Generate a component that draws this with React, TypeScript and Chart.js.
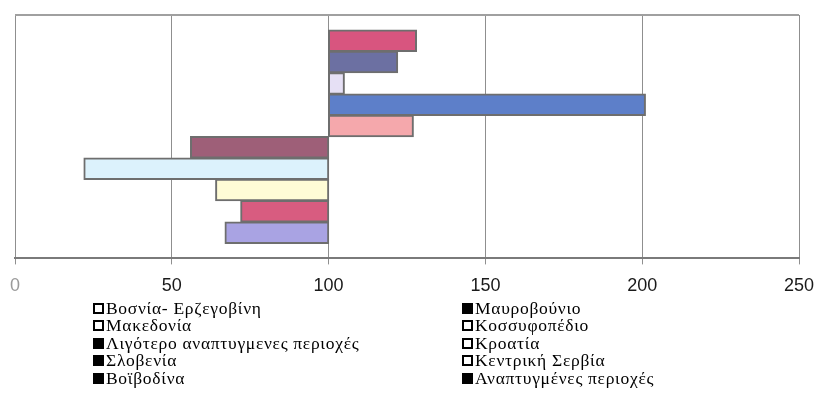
import React, { useEffect, useRef } from "react";
import { Chart, registerables } from "chart.js";

Chart.register(...registerables);

// Legend order (read row by row, left column then right column)
const seriesNames = [
  "Βοσνία- Ερζεγοβίνη",
  "Μαυροβούνιο",
  "Μακεδονία",
  "Κοσσυφοπέδιο",
  "Λιγότερο αναπτυγμενες περιοχές",
  "Κροατία",
  "Σλοβενία",
  "Κεντρική Σερβία",
  "Βοϊβοδίνα",
  "Αναπτυγμένες περιοχές",
];
const seriesValues = [67, 72, 64, 22, 56, 127, 201, 105, 122, 128];
const seriesColors = [
  "#A9A3E3",
  "#D85C80",
  "#FFFCD6",
  "#DCF2FC",
  "#9E5F78",
  "#F5A8AC",
  "#5D7FC9",
  "#E6E0F5",
  "#6C70A2",
  "#D8557F",
];
const legendFilled = [false, true, false, false, true, false, true, false, true, true];
const baseValue = 100;
const categories = [""];
const xMin = 0;
const xMax = 250;
const xStep = 50;

export default function App() {
  const canvasRef = useRef<HTMLCanvasElement | null>(null);

  useEffect(() => {
    if (!canvasRef.current) return;
    const order = seriesNames.map((_, i) => i).reverse();
    const datasets = order.map((i) => ({
      label: seriesNames[i],
      data: [[baseValue, seriesValues[i]]] as any,
      backgroundColor: seriesColors[i],
      borderColor: "#6e6e6e",
      borderWidth: 2,
      borderSkipped: false as any,
      inflateAmount: 0.6,
      categoryPercentage: 0.876,
      barPercentage: 1,
    }));
    const chart = new Chart(canvasRef.current, {
      type: "bar",
      data: { labels: categories, datasets },
      options: {
        indexAxis: "y",
        animation: false,
        responsive: false,
        maintainAspectRatio: false,
        layout: { padding: { left: 15, right: 18, top: 15, bottom: 4 } },
        plugins: { legend: { display: false }, tooltip: { enabled: false } },
        scales: {
          x: {
            min: xMin,
            max: xMax,
            afterFit: (scale: any) => {
              scale.paddingLeft = 0;
              scale.paddingRight = 0;
            },
            ticks: {
              stepSize: xStep,
              padding: 11,
              font: { family: "'Liberation Sans', Arial, sans-serif", size: 18 },
              color: (ctx: any) => (ctx.tick && ctx.tick.value === 0 ? "#9a9a9a" : "#1a1a1a"),
            },
            grid: { color: "#8f8f8f", lineWidth: 1, tickLength: 6 },
            border: { display: true, color: "#7a7a7a", width: 2 },
          },
          y: {
            ticks: { display: false },
            grid: { color: "#a0a0a0", lineWidth: 2, offset: true, drawTicks: false },
            border: { display: false },
          },
        },
      },
    });
    return () => chart.destroy();
  }, []);

  const rows = [0, 1, 2, 3, 4];
  const legendItem = (i: number, x: number, y: number) => (
    <div
      key={i}
      style={{
        position: "absolute",
        left: x,
        top: y - 10,
        height: 20,
        display: "flex",
        alignItems: "center",
        whiteSpace: "nowrap",
        fontFamily: "'Liberation Serif', 'Times New Roman', serif",
        fontSize: 17.5,
        letterSpacing: 0.7,
        color: "#000",
      }}
    >
      <span
        style={{
          display: "inline-block",
          width: 7,
          height: 7,
          border: "2px solid #000",
          background: legendFilled[i] ? "#000" : "#fff",
          marginRight: 2,
        }}
      />
      <span>{seriesNames[i]}</span>
    </div>
  );

  return (
    <div
      style={{
        position: "absolute",
        left: 0,
        top: 0,
        width: 817,
        height: 411,
        background: "#fff",
        overflow: "hidden",
      }}
    >
      <canvas ref={canvasRef} width={817} height={312} style={{ position: "absolute", left: 0, top: 0 }} />
      {rows.map((r) => legendItem(r * 2, 93, 308 + r * 17.6))}
      {rows.map((r) => legendItem(r * 2 + 1, 462, 308 + r * 17.6))}
    </div>
  );
}
